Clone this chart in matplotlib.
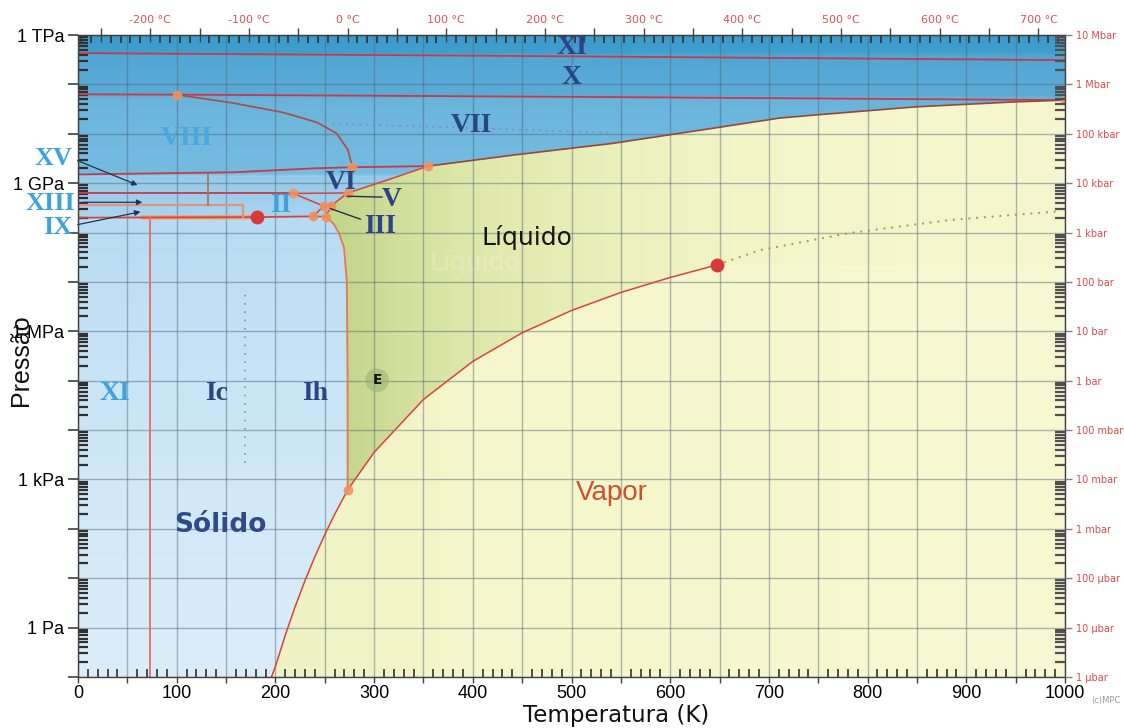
import numpy as np
import matplotlib
matplotlib.use("Agg")
import matplotlib.pyplot as plt
from matplotlib.patches import Polygon
from matplotlib.colors import to_rgb
from matplotlib.ticker import FixedLocator, FixedFormatter, LogLocator, NullFormatter, MultipleLocator

# ---------------- data (T in K, P in Pa) ----------------
sub_T = [196, 200, 210, 220, 230, 240, 250, 260, 273.16]
sub_P = [0.1, 0.163, 0.70, 2.66, 8.95, 27.3, 76.0, 196, 611.657]
vap_T = [273.16, 300, 350, 400, 450, 500, 550, 600, 647.1]
vap_P = [611.657, 3.54e3, 4.17e4, 2.46e5, 9.32e5, 2.64e6, 6.12e6, 1.23e7, 2.2064e7]
ihmelt_T = [273.16, 273.15, 272.4, 269.5, 264.2, 259.0, 251.15]
ihmelt_P = [611.657, 1e5, 1e7, 5e7, 1e8, 1.5e8, 2.099e8]
vimelt_T = [273.31, 313, 355]
vimelt_P = [6.324e8, 1.15e9, 2.216e9]
viimelt_T = [355, 441, 542, 643, 711, 747, 848, 947, 1000]
viimelt_P = [2.216e9, 3.7e9, 6.4e9, 1.29e10, 2.08e10, 2.4e10, 3.5e10, 4.4e10, 4.8e10]
viiviii_T = [100, 157, 208, 242, 262, 273.5, 278]
viiviii_P = [6.2e10, 4.2e10, 2.7e10, 1.7e10, 1.02e10, 4.7e9, 2.1e9]
xxi_T = [0, 500, 1000]
xxi_P = [4.3e11, 3.7e11, 3.1e11]
viix_T = [0, 100, 500, 1000]
viix_P = [6.3e10, 6.2e10, 5.6e10, 4.8e10]
viviii_T = [0, 158, 240, 278]
viviii_P = [1.5e9, 1.66e9, 2.0e9, 2.1e9]
vivii_T = [278, 355]
vivii_P = [2.1e9, 2.216e9]
ihii_T = [0, 181, 238.5]
ihii_P = [2.0e8, 2.05e8, 2.129e8]
lowii_T = [0, 218]
lowii_P = [6.2e8, 6.2e8]
iiv_T = [218, 248.85]
iiv_P = [6.2e8, 3.443e8]
iiiii_T = [238.5, 248.85]
iiiii_P = [2.129e8, 3.443e8]
iiiv_T = [248.85, 256.16]
iiiv_P = [3.443e8, 3.463e8]
ihiii_T = [251.15, 238.5]
ihiii_P = [2.099e8, 2.129e8]
iiil_T = [251.15, 256.16, 273.31]
iiil_P = [2.099e8, 3.463e8, 6.324e8]
vvi_T = [218, 273.31]
vvi_P = [6.2e8, 6.324e8]
ix_T = [0, 167, 167]
ix_P = [3.6e8, 3.6e8, 2.05e8]
xv_T = [132, 132]
xv_P = [1.5e9, 3.6e8]
xiih_T = [73, 73]
xiih_P = [0.1, 2.0e8]
tp_T = [100, 278, 355, 218, 273.31, 238.5, 248.85, 251.15, 256.16, 273.16, 1000]
tp_P = [6.2e10, 2.1e9, 2.216e9, 6.2e8, 6.324e8, 2.129e8, 3.443e8, 2.099e8, 3.463e8, 611.657, 4.8e10]
red_T = [181, 647.1]
red_P = [2.05e8, 2.2064e7]
widom_T = [647.1, 691, 782, 884, 995]
widom_P = [2.2064e7, 4.4e7, 9.8e7, 1.8e8, 2.7e8]
viidot_T = [258, 400, 541]
viidot_P = [1.6e10, 1.3e10, 1.05e10]
icdot_T = [169, 169]
icdot_P = [2.2e3, 7.4e6]

kelvin_ticks = list(range(0, 1001, 50))
celsius_ticks = list(range(-250, 751, 50))
left_labels = {1e12: "1 TPa", 1e9: "1 GPa", 1e6: "1 MPa", 1e3: "1 kPa", 1e0: "1 Pa"}
right_labels = ["1 µbar", "10 µbar", "100 µbar", "1 mbar", "10 mbar", "100 mbar", "1 bar",
                "10 bar", "100 bar", "1 kbar", "10 kbar", "100 kbar", "1 Mbar", "10 Mbar"]

# ---------------- figure ----------------
W, H = 1124, 728
fig = plt.figure(figsize=(W / 100, H / 100), dpi=100)
fig.patch.set_facecolor("white")
ax = fig.add_axes([78 / W, 51 / H, 987 / W, 642 / H])
ax.set_xlim(0, 1000)
ax.set_yscale("log")
ax.set_ylim(0.1, 1e12)


def grad(stops, colors, n=900):
    xs = np.linspace(0, 1, n)
    cols = np.array([to_rgb(c) for c in colors])
    return np.stack([np.interp(xs, stops, cols[:, k]) for k in range(3)], axis=-1)


def f(logp):
    return (logp + 1) / 13.0


# ice background (vertical gradient by pressure)
ice_stops = [f(-1), f(3), f(6), f(8.3), f(8.32), f(9.15), f(9.2), f(10.7), f(10.8), f(11.6), f(11.65), f(12)]
ice_cols = ["#dcedf9", "#d0e8f7", "#c4e2f5", "#b6dbf2", "#a9d4ef", "#94caea", "#76bce1",
            "#6ab4dc", "#5cabd7", "#52a6d4", "#419fce", "#3b9bcb"]
ice = grad(ice_stops, ice_cols)[:, None, :]
ax.imshow(ice, extent=[0, 1, 0, 1], transform=ax.transAxes, origin="lower",
          aspect="auto", interpolation="bilinear", zorder=0)

# fluid region
fluid_v = (list(zip(sub_T, sub_P)) + list(zip(ihmelt_T[1:], ihmelt_P[1:]))
           + [(256.16, 3.463e8)] + list(zip(vimelt_T, vimelt_P))
           + list(zip(viimelt_T[1:], viimelt_P[1:]))
           + [(1015, 4.75e10), (1015, 0.05), (196, 0.05)])
fluid_patch = Polygon(fluid_v, closed=True, transform=ax.transData)
fl = grad([0, 0.27, 0.33, 0.40, 0.55, 0.66, 1.0],
          ["#c5d68c", "#c5d68c", "#d3e09c", "#dfe8ab", "#ebf0bc", "#f3f5c9", "#f7f7cf"])[None, :, :]
im1 = ax.imshow(fl, extent=[0, 1, 0, 1], transform=ax.transAxes, origin="lower",
                aspect="auto", interpolation="bilinear", zorder=1)
im1.set_clip_path(fluid_patch)

# vapour region
vap_v = (list(zip(sub_T, sub_P)) + list(zip(vap_T[1:], vap_P[1:]))
         + [(1015, 2.2064e7), (1015, 0.05), (196, 0.05)])
vap_patch = Polygon(vap_v, closed=True, transform=ax.transData)
vp = grad([0, 0.2, 0.4, 0.66, 1.0], ["#eef2c4", "#eef2c4", "#f5f6cb", "#f7f7cf", "#f8f8d2"])[None, :, :]
im2 = ax.imshow(vp, extent=[0, 1, 0, 1], transform=ax.transAxes, origin="lower",
                aspect="auto", interpolation="bilinear", zorder=1.1)
im2.set_clip_path(vap_patch)

# grid
ax.set_xticks(kelvin_ticks)
ax.set_xticklabels([str(t) if t % 100 == 0 else "" for t in kelvin_ticks])
ax.xaxis.set_minor_locator(MultipleLocator(10))
ax.yaxis.set_major_locator(LogLocator(base=10, numticks=30))
ax.yaxis.set_minor_locator(LogLocator(base=10, subs=np.arange(2, 10), numticks=30))
ax.grid(True, which="major", color="#4f6474", alpha=0.45, lw=1.0, zorder=2)
ax.set_axisbelow(False)

# ---------------- boundaries ----------------
RED = "#d6453d"
CRIM = "#c83a48"
lw = 1.1
ax.plot(xxi_T, xxi_P, color=CRIM, lw=1.3, zorder=3)
ax.plot(viix_T, viix_P, color=CRIM, lw=1.3, zorder=3)
ax.plot(viiviii_T, viiviii_P, color="#b04a46", lw=1.2, zorder=3)
ax.plot(viimelt_T, viimelt_P, color="#9a4638", lw=1.2, zorder=3)
ax.plot(viviii_T, viviii_P, color=CRIM, lw=1.3, zorder=3)
ax.plot(vivii_T, vivii_P, color=CRIM, lw=1.3, zorder=3)
ax.plot(vimelt_T, vimelt_P, color=RED, lw=lw, zorder=3)
ax.plot(sub_T, sub_P, color=RED, lw=lw, zorder=3)
ax.plot(vap_T, vap_P, color=RED, lw=lw, zorder=3)
ax.plot(ihmelt_T, ihmelt_P, color="#e07a50", lw=1.3, zorder=3)
ax.plot([66, 178], [2.02e8, 2.05e8], color="#f0a070", lw=3.2, zorder=3)
ax.plot(ihii_T, ihii_P, color=RED, lw=1.3, zorder=3)
ax.plot(lowii_T, lowii_P, color=CRIM, lw=1.3, zorder=3)
for tt, pp in [(iiv_T, iiv_P), (iiiii_T, iiiii_P), (iiiv_T, iiiv_P), (ihiii_T, ihiii_P),
               (iiil_T, iiil_P), (vvi_T, vvi_P)]:
    ax.plot(tt, pp, color=RED, lw=lw, zorder=3)
ax.plot(ix_T, ix_P, color="#e8907a", lw=1.6, zorder=3)
ax.plot(xv_T, xv_P, color="#a07a5a", lw=1.3, zorder=3)
ax.plot(xiih_T, xiih_P, color="#e07868", lw=1.4, zorder=3)

# dotted lines
ax.plot(widom_T, widom_P, color="#a09a5a", lw=1.4, ls=(0, (1, 3)), zorder=3)
ax.plot(viidot_T, viidot_P, color="#7890a0", lw=1.2, ls=(0, (1, 3)), zorder=3)
ax.plot(icdot_T, icdot_P, color="#8090a0", lw=1.2, ls=(0, (1, 4)), zorder=3)

# triple points
ax.plot(tp_T, tp_P, ls="none", marker="o", ms=7, color="#f2905c", alpha=0.9, mec="none", zorder=4)
ax.plot(red_T, red_P, ls="none", marker="o", ms=10, color="#d83838", mec="none", zorder=4)

# ---------------- labels ----------------
NAVY = "#2b4584"
LB = "#3ea3dc"
serif = dict(family="Liberation Serif", weight="bold", fontsize=20, ha="center", va="center", zorder=5)
ax.text(500, 5.6e11, "XI", color=NAVY, **serif)
ax.text(500, 1.35e11, "X", color=NAVY, **serif)
ax.text(399, 1.48e10, "VII", color=NAVY, **serif)
ax.text(110, 8.1e9, "VIII", color="#4aa8dc", **serif)
ax.text(267, 1.05e9, "VI", color=NAVY, **serif)
ax.text(318, 4.6e8, "V", color=NAVY, **serif)
ax.text(306, 1.35e8, "III", color=NAVY, **serif)
ax.text(205, 3.6e8, "II", color=LB, **serif)
ax.text(37, 5.6e4, "XI", color=LB, **serif)
ax.text(140, 5.6e4, "Ic", color=NAVY, **serif)
ax.text(240, 5.6e4, "Ih", color=NAVY, **serif)
side = dict(serif, fontsize=19)
for txt, tt, pp in [("XV", -25, 3.2e9), ("XIII", -28, 3.9e8), ("IX", -21, 1.29e8)]:
    t = ax.text(tt, pp, txt, color=LB, **side)
    t.set_clip_on(False)

arrow = dict(arrowstyle="-|>", color="#1f3550", lw=0.9, mutation_scale=8)
ax.annotate("", xy=(63, 8.7e8), xytext=(-3, 3.0e9), arrowprops=arrow, annotation_clip=False, zorder=5)
ax.annotate("", xy=(68, 4.1e8), xytext=(2, 4.1e8), arrowprops=arrow, annotation_clip=False, zorder=5)
ax.annotate("", xy=(66, 2.7e8), xytext=(-3, 1.41e8), arrowprops=arrow, annotation_clip=False, zorder=5)
plain = dict(arrowstyle="-", color="#1f3550", lw=1.0)
ax.annotate("", xy=(270, 5.46e8), xytext=(311, 5.2e8), arrowprops=plain, zorder=5)
ax.annotate("", xy=(253, 3.2e8), xytext=(289, 1.78e8), arrowprops=plain, zorder=5)

ax.text(303, 1.02e5, "E", fontsize=10, weight="bold", color="#111111", ha="center", va="center",
        family="DejaVu Sans", zorder=5,
        bbox=dict(boxstyle="circle,pad=0.35", fc="#98b070", ec="none", alpha=0.55))
ax.text(144, 120, "Sólido", fontsize=19, weight="bold", color="#2f4a86", family="DejaVu Sans",
        ha="center", va="center", zorder=5)
ax.text(402, 2.5e7, "Líquido", fontsize=18, color="white", alpha=0.2, family="DejaVu Sans",
        ha="center", va="center", zorder=4.5)
ax.text(455, 8.1e7, "Líquido", fontsize=18, color="#161616", family="DejaVu Sans",
        ha="center", va="center", zorder=5)
ax.text(541, 530, "Vapor", fontsize=20, color="#d0502a", family="Liberation Sans",
        ha="center", va="center", zorder=5)

# ---------------- axes styling ----------------
for s in ax.spines.values():
    s.set_color("#404040")
    s.set_linewidth(1.0)
    s.set_zorder(6)

ax.tick_params(axis="x", which="major", direction="out", length=4, width=1, color="#404040",
               labelsize=13, pad=2, top=False)
ax.tick_params(axis="x", which="minor", direction="in", length=6, width=1.2, color="#303030", top=False)
for lab in ax.get_xticklabels():
    lab.set_family("Liberation Sans")

ax.yaxis.set_major_formatter(plt.FuncFormatter(
    lambda v, p: left_labels.get(float(f"{v:.0e}"), "") if v > 0 else ""))
ax.yaxis.set_minor_formatter(NullFormatter())
ax.tick_params(axis="y", which="major", direction="out", length=7, width=1.2, color="#404040",
               labelsize=13, pad=3)
ax.tick_params(axis="y", which="minor", direction="in", length=7, width=1.6, color="#303030")
for lab in ax.get_yticklabels():
    lab.set_family("Liberation Sans")

ax.set_xlabel("Temperatura (K)", fontsize=16.5, family="DejaVu Sans", color="#111111")
ax.xaxis.set_label_coords(0.545, -0.042)
ax.set_ylabel("Pressão", fontsize=18, family="Liberation Sans", color="#111111")
ax.yaxis.set_label_coords(-0.046, 0.494)

# right axis in bar
ax2 = ax.twinx()
ax2.set_yscale("log")
ax2.set_ylim(0.1, 1e12)
decades = [10.0 ** k for k in range(-1, 13)]
ax2.yaxis.set_major_locator(FixedLocator(decades))
ax2.yaxis.set_major_formatter(FixedFormatter(right_labels))
ax2.yaxis.set_minor_locator(LogLocator(base=10, subs=np.arange(2, 10), numticks=30))
ax2.yaxis.set_minor_formatter(NullFormatter())
ax2.tick_params(axis="y", which="major", direction="out", length=5, width=1, color="#808080",
                labelsize=7, labelcolor="#e04848", pad=3)
ax2.tick_params(axis="y", which="minor", direction="in", length=7, width=1.6, color="#505050")
for lab in ax2.get_yticklabels():
    lab.set_family("Liberation Sans Narrow")
for s in ax2.spines.values():
    s.set_visible(False)

# top axis in Celsius
secx = ax.secondary_xaxis("top", functions=(lambda t: t - 273.15, lambda c: c + 273.15))
secx.set_xticks(celsius_ticks)
secx.set_xticklabels([f"{c} °C" if c % 100 == 0 and -200 <= c <= 700 else "" for c in celsius_ticks])
secx.xaxis.set_minor_locator(MultipleLocator(10))
secx.tick_params(which="major", direction="inout", length=10, width=1, color="#404040",
                 labelsize=8, labelcolor="#e05050", pad=2)
secx.tick_params(which="minor", direction="in", length=6, width=1.2, color="#303030")
for lab in secx.get_xticklabels():
    lab.set_family("Liberation Sans Narrow")
secx.spines["top"].set_color("#404040")

fig.text(1106 / W, 1 - 700 / H, "(c)MPC", fontsize=6, color="#9a9a9a", ha="center", va="center")

fig.savefig("out.png", dpi=100)
